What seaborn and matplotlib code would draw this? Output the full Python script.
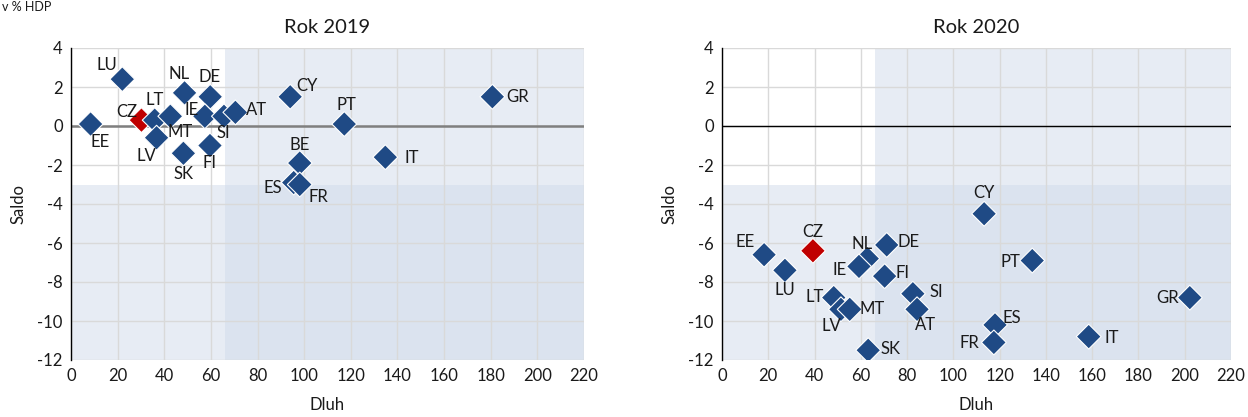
import matplotlib
matplotlib.use("Agg")
import matplotlib.pyplot as plt
import seaborn as sns
import pandas as pd

sns.set_style("white")
plt.rcParams['font.family'] = ['Lato', 'DejaVu Sans']
plt.rcParams['axes.unicode_minus'] = False

# ---- data ----
countries_2019 = ["EE", "LU", "CZ", "LT", "MT", "LV", "NL", "DE", "IE", "SI", "AT",
                  "SK", "FI", "CY", "PT", "BE", "ES", "FR", "IT", "GR"]
debt_2019 = [8.4, 22.0, 30.2, 35.9, 42.6, 36.7, 48.7, 59.7, 57.4, 65.6, 70.5,
             48.2, 59.6, 94.0, 117.2, 98.1, 95.5, 98.1, 134.8, 180.7]
balance_2019 = [0.1, 2.4, 0.3, 0.3, 0.5, -0.6, 1.7, 1.5, 0.5, 0.5, 0.7,
                -1.4, -1.0, 1.5, 0.1, -1.9, -2.9, -3.0, -1.6, 1.5]

countries_2020 = ["EE", "LU", "CZ", "NL", "IE", "DE", "FI", "LT", "LV", "MT", "SI",
                  "AT", "SK", "CY", "PT", "GR", "ES", "FR", "IT"]
debt_2020 = [18.2, 27.2, 39.3, 62.8, 59.2, 71.2, 70.3, 48.3, 51.4, 55.2, 82.5,
             84.3, 63.2, 113.3, 134.1, 202.2, 118.0, 117.5, 158.5]
balance_2020 = [-6.6, -7.4, -6.4, -6.8, -7.2, -6.1, -7.7, -8.8, -9.4, -9.4, -8.6,
                -9.4, -11.5, -4.5, -6.9, -8.8, -10.2, -11.1, -10.8]

# label offsets in pixels (dx right, dy down)
off_2019 = {"EE": (10, 18), "LU": (-15, -14), "CZ": (-15, -8), "LT": (0, -20),
            "MT": (10, 16), "LV": (-10, 18), "NL": (-5, -19), "DE": (-1, -20),
            "IE": (-13, -6), "SI": (-1, 17), "AT": (21, -2), "SK": (0, 21),
            "FI": (0, 18), "CY": (17, -11), "PT": (2, -19), "BE": (0, -18),
            "ES": (-21, 5), "FR": (19, 13), "IT": (26, 1), "GR": (25, 0)}
off_2020 = {"EE": (-19, -13), "LU": (0, 20), "CZ": (0, -19), "NL": (-5, -15),
            "IE": (-19, 4), "DE": (22, -3), "FI": (18, -3), "LT": (-19, -1),
            "LV": (-10, 17), "MT": (22, 0), "SI": (23, -2), "AT": (8, 16),
            "SK": (22, -1), "CY": (0, -21), "PT": (-22, 1), "GR": (-22, 0),
            "ES": (17, -7), "FR": (-24, 1), "IT": (23, 1)}

BLUE = "#1F4A85"
RED = "#C00000"
SHADE = "#D1DBEB"
TXT = "#1A1A1A"

fig = plt.figure(figsize=(12.48, 4.17), dpi=100)
W, H = 1248, 417
ax1 = fig.add_axes([71 / W, (417 - 360) / H, (584 - 71) / W, (360 - 48) / H])
ax2 = fig.add_axes([722 / W, (417 - 360) / H, (1231 - 722) / W, (360 - 48) / H])

panels = [
    (ax1, "Rok 2019", countries_2019, debt_2019, balance_2019, off_2019, "#7F7F7F", 1.8),
    (ax2, "Rok 2020", countries_2020, debt_2020, balance_2020, off_2020, "#000000", 1.0),
]

for ax, title, cc, dd, bb, offs, zcol, zlw in panels:
    df = pd.DataFrame({"country": cc, "debt": dd, "balance": bb})
    df["cz"] = df["country"] == "CZ"
    ax.axvspan(66, 220, color=SHADE, alpha=0.5, lw=0, zorder=0)
    ax.axhspan(-12, -3, color=SHADE, alpha=0.5, lw=0, zorder=0)
    ax.set_axisbelow(True)
    ax.grid(True, color="#D9D9D9", lw=1.0)
    ax.axhline(0, color=zcol, lw=zlw, zorder=1.5)
    sns.scatterplot(data=df, x="debt", y="balance", hue="cz",
                    palette={False: BLUE, True: RED}, marker="D", s=160,
                    edgecolor="white", linewidth=0.8, legend=False, ax=ax, zorder=3)
    for c, x, y in zip(cc, dd, bb):
        dx, dy = offs[c]
        ax.annotate(c, (x, y), xytext=(dx, -dy), textcoords="offset pixels",
                    ha="center", va="center", fontsize=12, color=TXT)
    ax.set_xlim(0, 220)
    ax.set_ylim(-12, 4)
    ax.set_xticks(range(0, 221, 20))
    ax.set_yticks(range(-12, 5, 2))
    ax.tick_params(axis="both", labelsize=12, length=0, pad=6, colors=TXT)
    ax.set_title(title, fontsize=14.5, pad=11, color=TXT)
    ax.set_xlabel("Dluh", fontsize=12, labelpad=9, color=TXT)
    ax.set_ylabel("Saldo", fontsize=12, labelpad=8, color=TXT)
    for s in ["top", "right", "bottom"]:
        ax.spines[s].set_visible(False)
    ax.spines["left"].set_color("#000000")
    ax.spines["left"].set_linewidth(1.0)

fig.text(0.002, 0.998, "v % HDP", fontsize=9, ha="left", va="top", color=TXT)

fig.savefig("out.png", dpi=100)
